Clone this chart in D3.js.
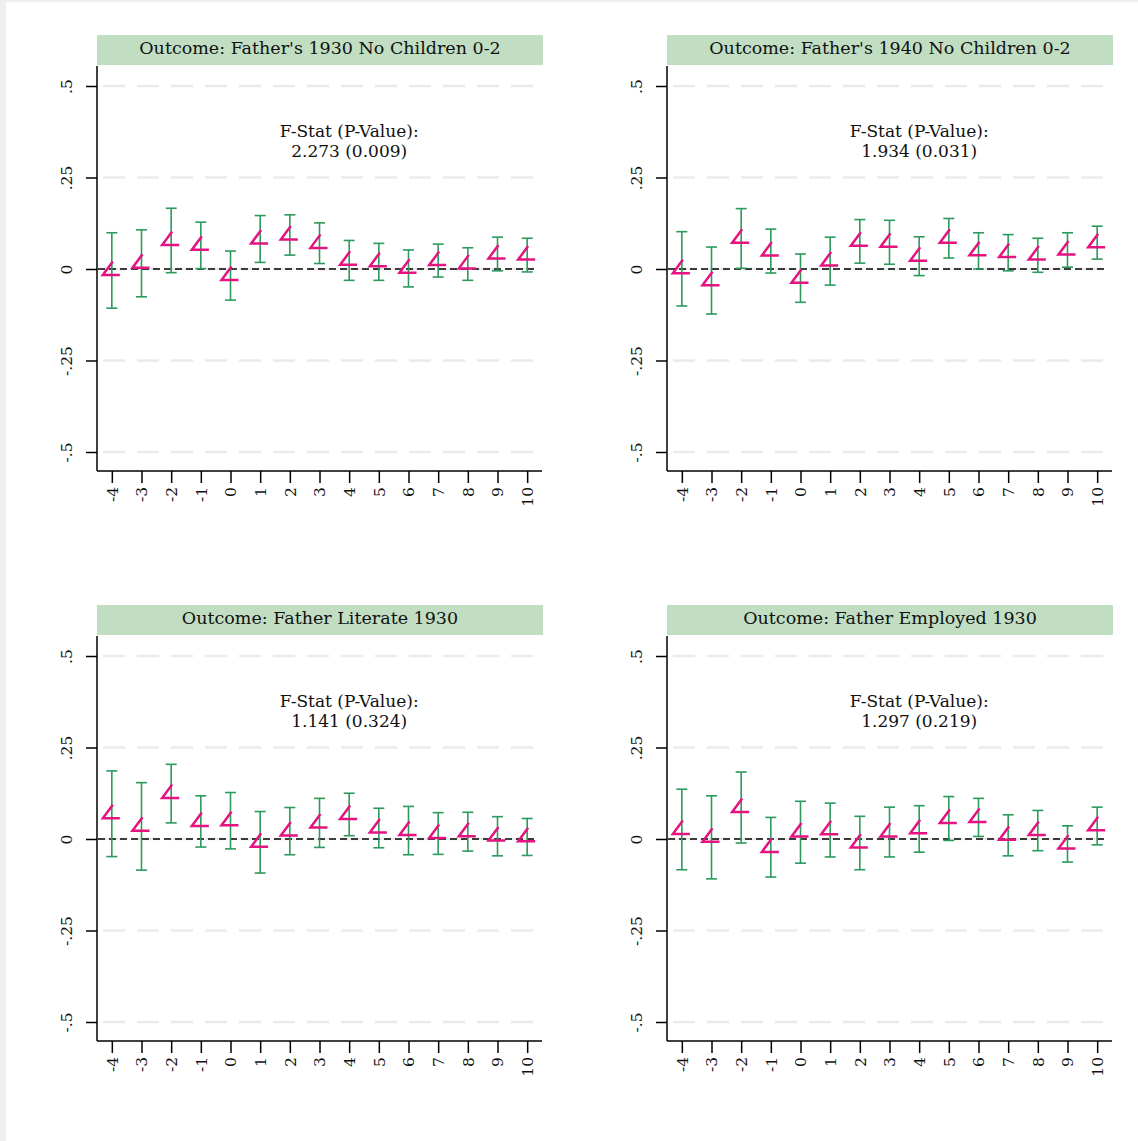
<!DOCTYPE html>
<html>
<head>
<meta charset="utf-8">
<script src="https://cdn.jsdelivr.net/npm/d3@7"></script>
<style>
    body { margin: 0; background: #efefef; }
    svg { display: block; font-family: "DejaVu Serif", "Liberation Serif", serif; }
</style>
</head>
<body>
<svg id="event_svg" width="1138" height="1141"></svg>
<script>
// Event time categories
var event_times = [-4, -3, -2, -1, 0, 1, 2, 3, 4, 5, 6, 7, 8, 9, 10];

// Y tick values and labels
var y_ticks = [-0.5, -0.25, 0, 0.25, 0.5];
var y_tick_labels = ["-.5", "-.25", "0", ".25", ".5"];

// Panel titles and F-stat text
var panel_titles = [
    "Outcome: Father's 1930 No Children 0-2",
    "Outcome: Father's 1940 No Children 0-2",
    "Outcome: Father Literate 1930",
    "Outcome: Father Employed 1930"
];
var fstat_texts = ["2.273 (0.009)", "1.934 (0.031)", "1.141 (0.324)", "1.297 (0.219)"];

// Point estimates
var coef_1930_kids = [-0.004, 0.016, 0.078, 0.065, -0.018, 0.082, 0.093, 0.070, 0.024, 0.020, 0.002, 0.023, 0.014, 0.041, 0.038];
var coef_1940_kids = [0.001, -0.032, 0.084, 0.049, -0.025, 0.022, 0.076, 0.073, 0.035, 0.084, 0.050, 0.045, 0.038, 0.052, 0.072];
var coef_literate = [0.069, 0.035, 0.124, 0.048, 0.050, -0.009, 0.022, 0.044, 0.067, 0.030, 0.023, 0.015, 0.020, 0.008, 0.006];
var coef_employed = [0.026, 0.005, 0.086, -0.023, 0.019, 0.025, -0.011, 0.019, 0.028, 0.056, 0.059, 0.010, 0.023, -0.014, 0.036];

// Upper confidence bounds
var hi_1930_kids = [0.099, 0.107, 0.166, 0.128, 0.049, 0.146, 0.148, 0.126, 0.078, 0.070, 0.052, 0.068, 0.058, 0.087, 0.084];
var hi_1940_kids = [0.102, 0.060, 0.165, 0.109, 0.041, 0.087, 0.135, 0.133, 0.088, 0.138, 0.099, 0.094, 0.084, 0.099, 0.117];
var hi_literate = [0.186, 0.154, 0.204, 0.118, 0.127, 0.075, 0.086, 0.111, 0.125, 0.084, 0.089, 0.072, 0.073, 0.061, 0.056];
var hi_employed = [0.136, 0.118, 0.183, 0.059, 0.103, 0.098, 0.062, 0.087, 0.091, 0.116, 0.111, 0.066, 0.078, 0.036, 0.087];

// Lower confidence bounds
var lo_1930_kids = [-0.107, -0.076, -0.010, 0.001, -0.085, 0.018, 0.038, 0.015, -0.031, -0.031, -0.049, -0.022, -0.031, -0.005, -0.008];
var lo_1940_kids = [-0.101, -0.123, 0.002, -0.011, -0.091, -0.044, 0.016, 0.013, -0.018, 0.030, 0.000, -0.005, -0.009, 0.005, 0.027];
var lo_literate = [-0.048, -0.085, 0.044, -0.022, -0.027, -0.093, -0.043, -0.023, 0.009, -0.024, -0.043, -0.042, -0.033, -0.046, -0.045];
var lo_employed = [-0.084, -0.109, -0.011, -0.104, -0.066, -0.049, -0.084, -0.049, -0.036, -0.004, 0.007, -0.046, -0.032, -0.063, -0.016];

var all_coefs = [coef_1930_kids, coef_1940_kids, coef_literate, coef_employed];
var all_his = [hi_1930_kids, hi_1940_kids, hi_literate, hi_employed];
var all_los = [lo_1930_kids, lo_1940_kids, lo_literate, lo_employed];

// SVG element
var event_svg;

document.addEventListener("DOMContentLoaded", function() {
    event_svg = d3.select("#event_svg");

    // white page area, gray strip left and top
    event_svg.append("rect")
        .attr("x", 6).attr("y", 2)
        .attr("width", 1132).attr("height", 1139)
        .attr("fill", "white");

    const pink = "#e5137f";
    const green = "#2b9a5c";

    for (let p = 0; p < 4; p++) {
        const ox = (p % 2) * 570;
        const oy = Math.floor(p / 2) * 570;
        const g = event_svg.append("g").attr("transform", `translate(${ox}, ${oy})`);

        // Scales
        const xScale = d3.scaleLinear().domain([-4.5, 10.5]).range([97, 542]);
        const yScale = d3.scaleLinear().domain([-0.5, 0.5]).range([452, 86]);

        // Title bar
        g.append("rect")
            .attr("x", 97).attr("y", 35)
            .attr("width", 446).attr("height", 30)
            .attr("fill", "#c1dec2");
        g.append("text")
            .attr("x", 320).attr("y", 48)
            .attr("dy", "0.35em")
            .attr("text-anchor", "middle")
            .style("font-size", "17.5px")
            .attr("fill", "#111")
            .text(panel_titles[p]);

        // Grid lines
        g.append("g")
            .selectAll("line")
            .data(y_ticks)
            .enter()
            .append("line")
                .attr("x1", 103).attr("x2", 535)
                .attr("y1", d => yScale(d)).attr("y2", d => yScale(d))
                .style("stroke", "#ebebeb")
                .style("stroke-width", 2.5)
                .style("stroke-dasharray", "22,12");

        // Zero line
        g.append("line")
            .attr("x1", 98).attr("x2", 537)
            .attr("y1", yScale(0)).attr("y2", yScale(0))
            .style("stroke", "black")
            .style("stroke-width", 1.5)
            .style("stroke-dasharray", "7,4");

        // Y axis
        const yAxis = g.append("g")
            .attr("transform", "translate(97, 0)")
            .call(d3.axisLeft(yScale).tickValues(y_ticks).tickSize(11)
                .tickFormat((d, i) => y_tick_labels[i]));
        yAxis.select(".domain").attr("d", "M0,66V471").style("stroke-width", 1.5);
        yAxis.selectAll(".tick line").style("stroke-width", 1.5);
        yAxis.selectAll(".tick text")
            .attr("x", null).attr("dy", null)
            .attr("transform", "translate(-30, 0) rotate(-90)")
            .attr("dy", "0.35em")
            .attr("text-anchor", "middle")
            .style("font-size", "15.5px")
            .style("font-family", "DejaVu Serif")
            .attr("fill", "#111");

        // X axis
        const xAxis = g.append("g")
            .attr("transform", "translate(0, 471)")
            .call(d3.axisBottom(xScale).tickValues(event_times).tickSize(12)
                .tickFormat(d => String(d)));
        xAxis.select(".domain").attr("d", "M97,0H542").style("stroke-width", 1.5);
        xAxis.selectAll(".tick line").style("stroke-width", 1.5);
        xAxis.selectAll(".tick text")
            .attr("y", null).attr("dy", null)
            .attr("transform", "translate(0, 16) rotate(-90)")
            .attr("dy", "0.35em")
            .attr("text-anchor", "end")
            .style("font-size", "15.5px")
            .style("font-family", "DejaVu Serif")
            .attr("fill", "#111");

        // Data rows for this panel
        const rows = event_times.map((t, i) => ({
            t: t, coef: all_coefs[p][i], hi: all_his[p][i], lo: all_los[p][i]
        }));

        // Error bars
        const bars = g.append("g")
            .selectAll("g")
            .data(rows)
            .enter()
            .append("g")
            .style("stroke", green)
            .style("stroke-width", 1.6);
        bars.append("line")
            .attr("x1", d => xScale(d.t)).attr("x2", d => xScale(d.t))
            .attr("y1", d => yScale(d.hi)).attr("y2", d => yScale(d.lo));
        bars.append("line")
            .attr("x1", d => xScale(d.t) - 5.5).attr("x2", d => xScale(d.t) + 5.5)
            .attr("y1", d => yScale(d.hi)).attr("y2", d => yScale(d.hi));
        bars.append("line")
            .attr("x1", d => xScale(d.t) - 5.5).attr("x2", d => xScale(d.t) + 5.5)
            .attr("y1", d => yScale(d.lo)).attr("y2", d => yScale(d.lo));

        // Markers (open triangle, right side missing)
        g.append("g")
            .selectAll("path")
            .data(rows)
            .enter()
            .append("path")
                .attr("d", function(d) {
                    const cx = xScale(d.t), cy = yScale(d.coef);
                    return `M${cx + 1},${cy - 9}L${cx - 9},${cy + 4.5}L${cx + 8},${cy + 4.5}`;
                })
                .attr("fill", "none")
                .attr("stroke", pink)
                .attr("stroke-width", 2.5)
                .attr("stroke-linejoin", "miter");

        // F-stat annotation
        const note = g.append("text")
            .attr("text-anchor", "middle")
            .style("font-size", "17px")
            .attr("fill", "#111");
        note.append("tspan")
            .attr("x", xScale(4)).attr("y", yScale(0.377))
            .attr("dy", "0.35em")
            .text("F-Stat (P-Value):");
        note.append("tspan")
            .attr("x", xScale(4)).attr("y", yScale(0.322))
            .attr("dy", "0.35em")
            .text(fstat_texts[p]);
    }
});
</script>
</body>
</html>
